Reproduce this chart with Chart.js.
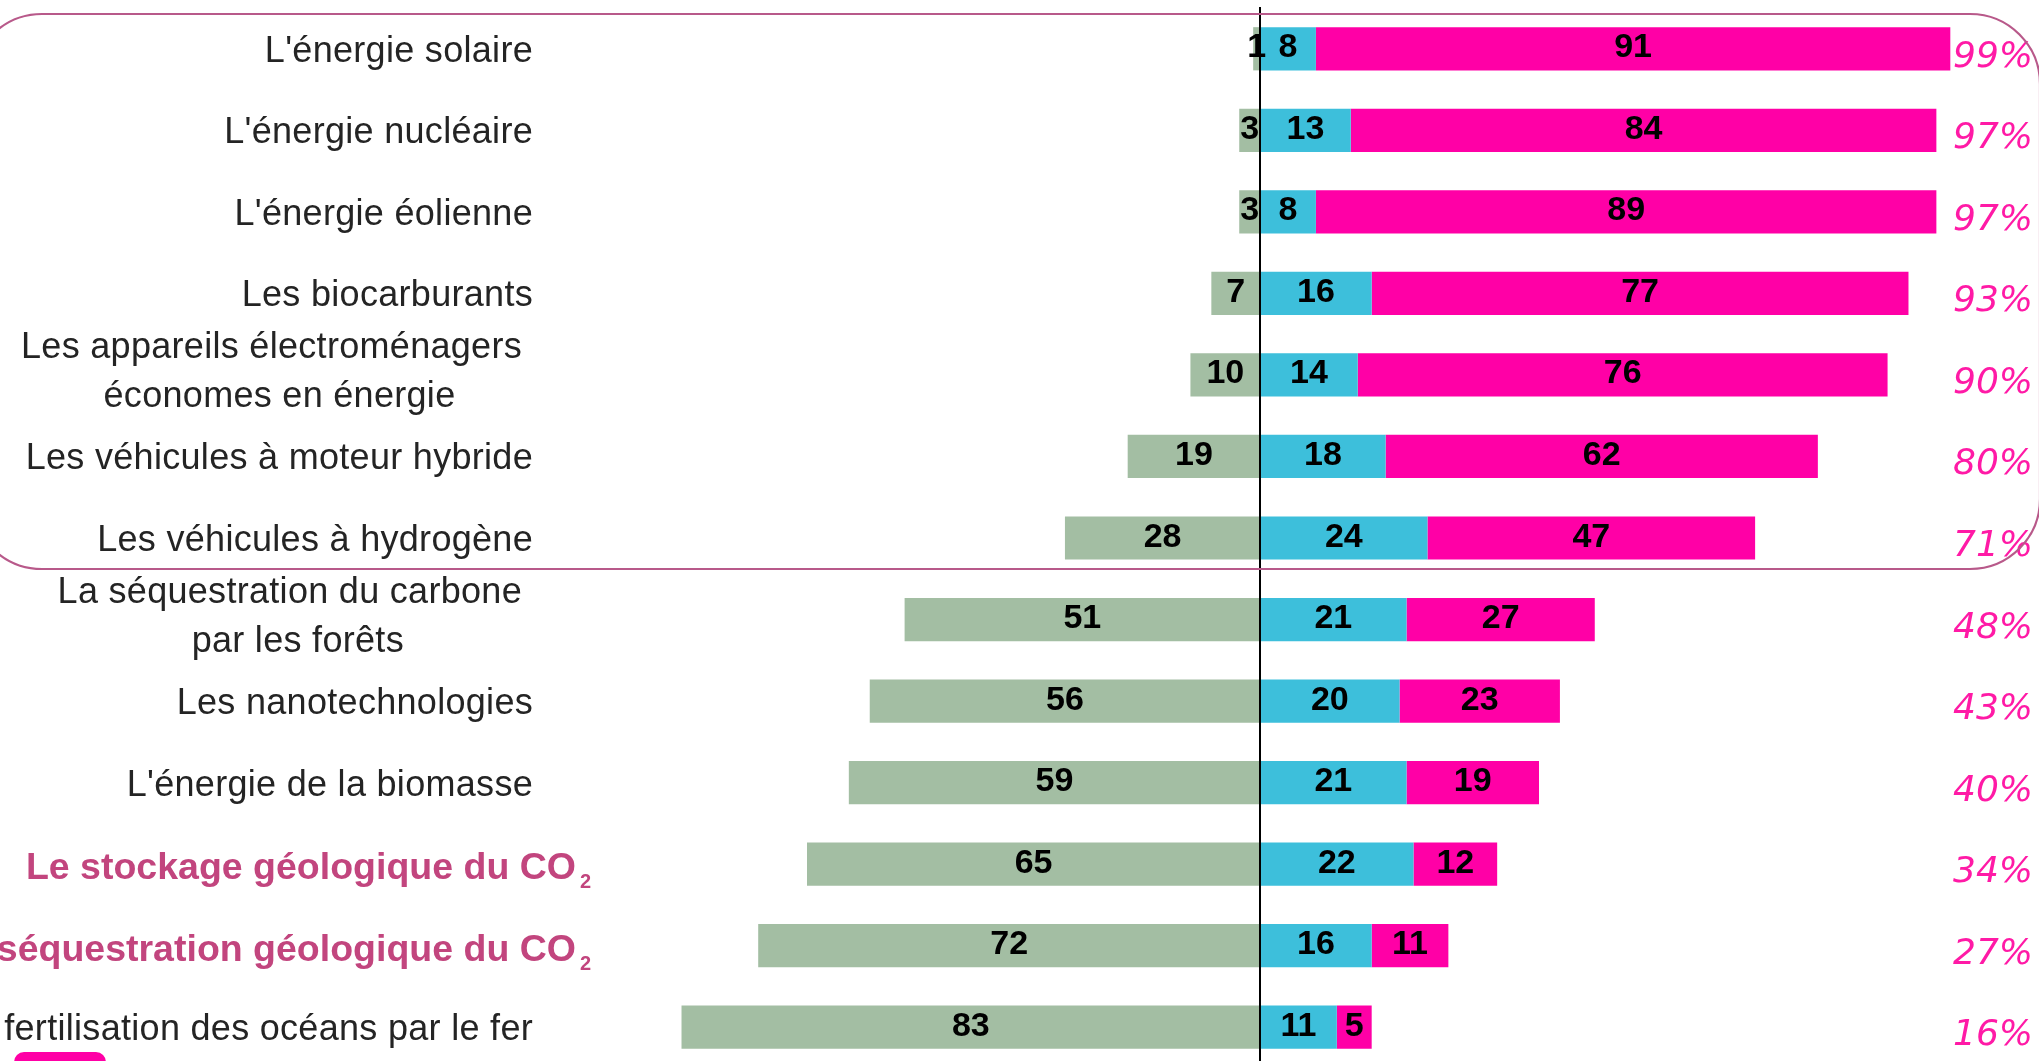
<!DOCTYPE html>
<html>
<head>
<meta charset="utf-8">
<script src="https://cdn.jsdelivr.net/npm/chart.js@4"></script>
<style>
html,body{margin:0;padding:0;background:#fff;overflow:hidden;}
#wrap{width:2039px;height:1080px;position:relative;}
</style>
</head>
<body>
<div id="wrap"><canvas id="c" width="2039" height="1080"></canvas></div>
<script>
const categories = [
  "L'énergie solaire",
  "L'énergie nucléaire",
  "L'énergie éolienne",
  "Les biocarburants",
  "Les appareils électroménagers\néconomes en énergie",
  "Les véhicules à moteur hybride",
  "Les véhicules à hydrogène",
  "La séquestration du carbone\npar les forêts",
  "Les nanotechnologies",
  "L'énergie de la biomasse",
  "Le stockage géologique du CO₂",
  "La séquestration géologique du CO₂",
  "La fertilisation des océans par le fer"
];
const highlighted = ["Le stockage géologique du CO₂", "La séquestration géologique du CO₂"];
const opposed   = [1, 3, 3, 7, 10, 19, 28, 51, 56, 59, 65, 72, 83];
const neutral   = [8, 13, 8, 16, 14, 18, 24, 21, 20, 21, 22, 16, 11];
const favorable = [91, 84, 89, 77, 76, 62, 47, 27, 23, 19, 12, 11, 5];

const GREEN = '#a3bea3', BLUE = '#3dbfdb', PINK = '#ff00a6';

const overlay = {
  id: 'overlay',
  afterDatasetsDraw(chart) {
    const ctx = chart.ctx;
    const xs = chart.scales.x, ys = chart.scales.y;
    ctx.save();
    // value labels in segments
    ctx.font = 'bold 34px "Liberation Sans", Arial, sans-serif';
    ctx.fillStyle = '#000';
    ctx.textAlign = 'center';
    ctx.textBaseline = 'alphabetic';
    chart.data.datasets.forEach((ds, di) => {
      const meta = chart.getDatasetMeta(di);
      meta.data.forEach((el, i) => {
        const v = Math.abs(ds.data[i]);
        const cx = (el.x + el.base) / 2;
        ctx.fillText(String(v), cx, el.y + 8.5);
      });
    });
    // zero line
    const x0 = Math.round(xs.getPixelForValue(0));
    ctx.strokeStyle = '#000';
    ctx.lineWidth = 2;
    ctx.beginPath();
    ctx.moveTo(x0, 7);
    ctx.lineTo(x0, chart.height);
    ctx.stroke();

    // totals (favourable share)
    ctx.font = 'italic 36px "DejaVu Sans", Verdana, sans-serif';
    ctx.fillStyle = '#ff1aa6';
    ctx.textAlign = 'right';
    categories.forEach((c, i) => {
      const y = ys.getPixelForValue(i);
      const total = neutral[i] + favorable[i];
      ctx.fillText(total + '%', 2033, y + 18);
    });

    // category labels
    categories.forEach((c, i) => {
      const y = ys.getPixelForValue(i);
      if (highlighted.includes(c)) {
        ctx.letterSpacing = '0px';
        ctx.font = 'bold 37.5px "Liberation Sans", Arial, sans-serif';
        ctx.fillStyle = '#c2457e';
        ctx.textAlign = 'right';
        const main = c.replace('₂', '');
        ctx.fillText(main, 576, y + 15);
        ctx.font = 'bold 20px "Liberation Sans", Arial, sans-serif';
        ctx.textAlign = 'left';
        ctx.fillText('2', 580, y + 24);
      } else {
        ctx.font = '36px "Liberation Sans", Arial, sans-serif';
        ctx.letterSpacing = '0.3px';
        ctx.fillStyle = '#242424';
        const lines = c.split('\n');
        if (lines.length === 1) {
          ctx.textAlign = 'right';
          ctx.fillText(c, 533, y + 13);
        } else {
          const w = Math.max(...lines.map(l => ctx.measureText(l).width));
          const cx = 522 - w / 2;
          ctx.textAlign = 'center';
          ctx.fillText(lines[0], cx, y - 30 + 13);
          ctx.fillText(lines[1], cx + 8, y + 19 + 13);
        }
      }
    });
    ctx.letterSpacing = '0px';

    // rounded outline around the first group
    ctx.strokeStyle = '#b8598a';
    ctx.lineWidth = 2.2;
    ctx.beginPath();
    ctx.roundRect(-28, 14, 2068, 555, 70);
    ctx.stroke();

    // partially visible legend swatch at bottom-left
    ctx.fillStyle = PINK;
    ctx.beginPath();
    ctx.roundRect(14, 1052, 92, 24, 10);
    ctx.fill();
    ctx.restore();
  }
};

new Chart(document.getElementById('c'), {
  type: 'bar',
  data: {
    labels: categories,
    datasets: [
      { label: 'Opposé', data: opposed.map(v => -v), backgroundColor: GREEN },
      { label: 'Neutre', data: neutral, backgroundColor: BLUE },
      { label: 'Favorable', data: favorable, backgroundColor: PINK }
    ]
  },
  options: {
    indexAxis: 'y',
    responsive: false,
    animation: false,
    devicePixelRatio: 1,
    layout: { padding: { left: 563, right: 12, top: 8, bottom: 12 } },
    datasets: { bar: { barPercentage: 0.53, categoryPercentage: 1, borderWidth: 0 } },
    scales: {
      x: { stacked: true, min: -100, max: 110, display: false },
      y: { stacked: true, display: false }
    },
    plugins: { legend: { display: false }, tooltip: { enabled: false } }
  },
  plugins: [overlay]
});
</script>
</body>
</html>
